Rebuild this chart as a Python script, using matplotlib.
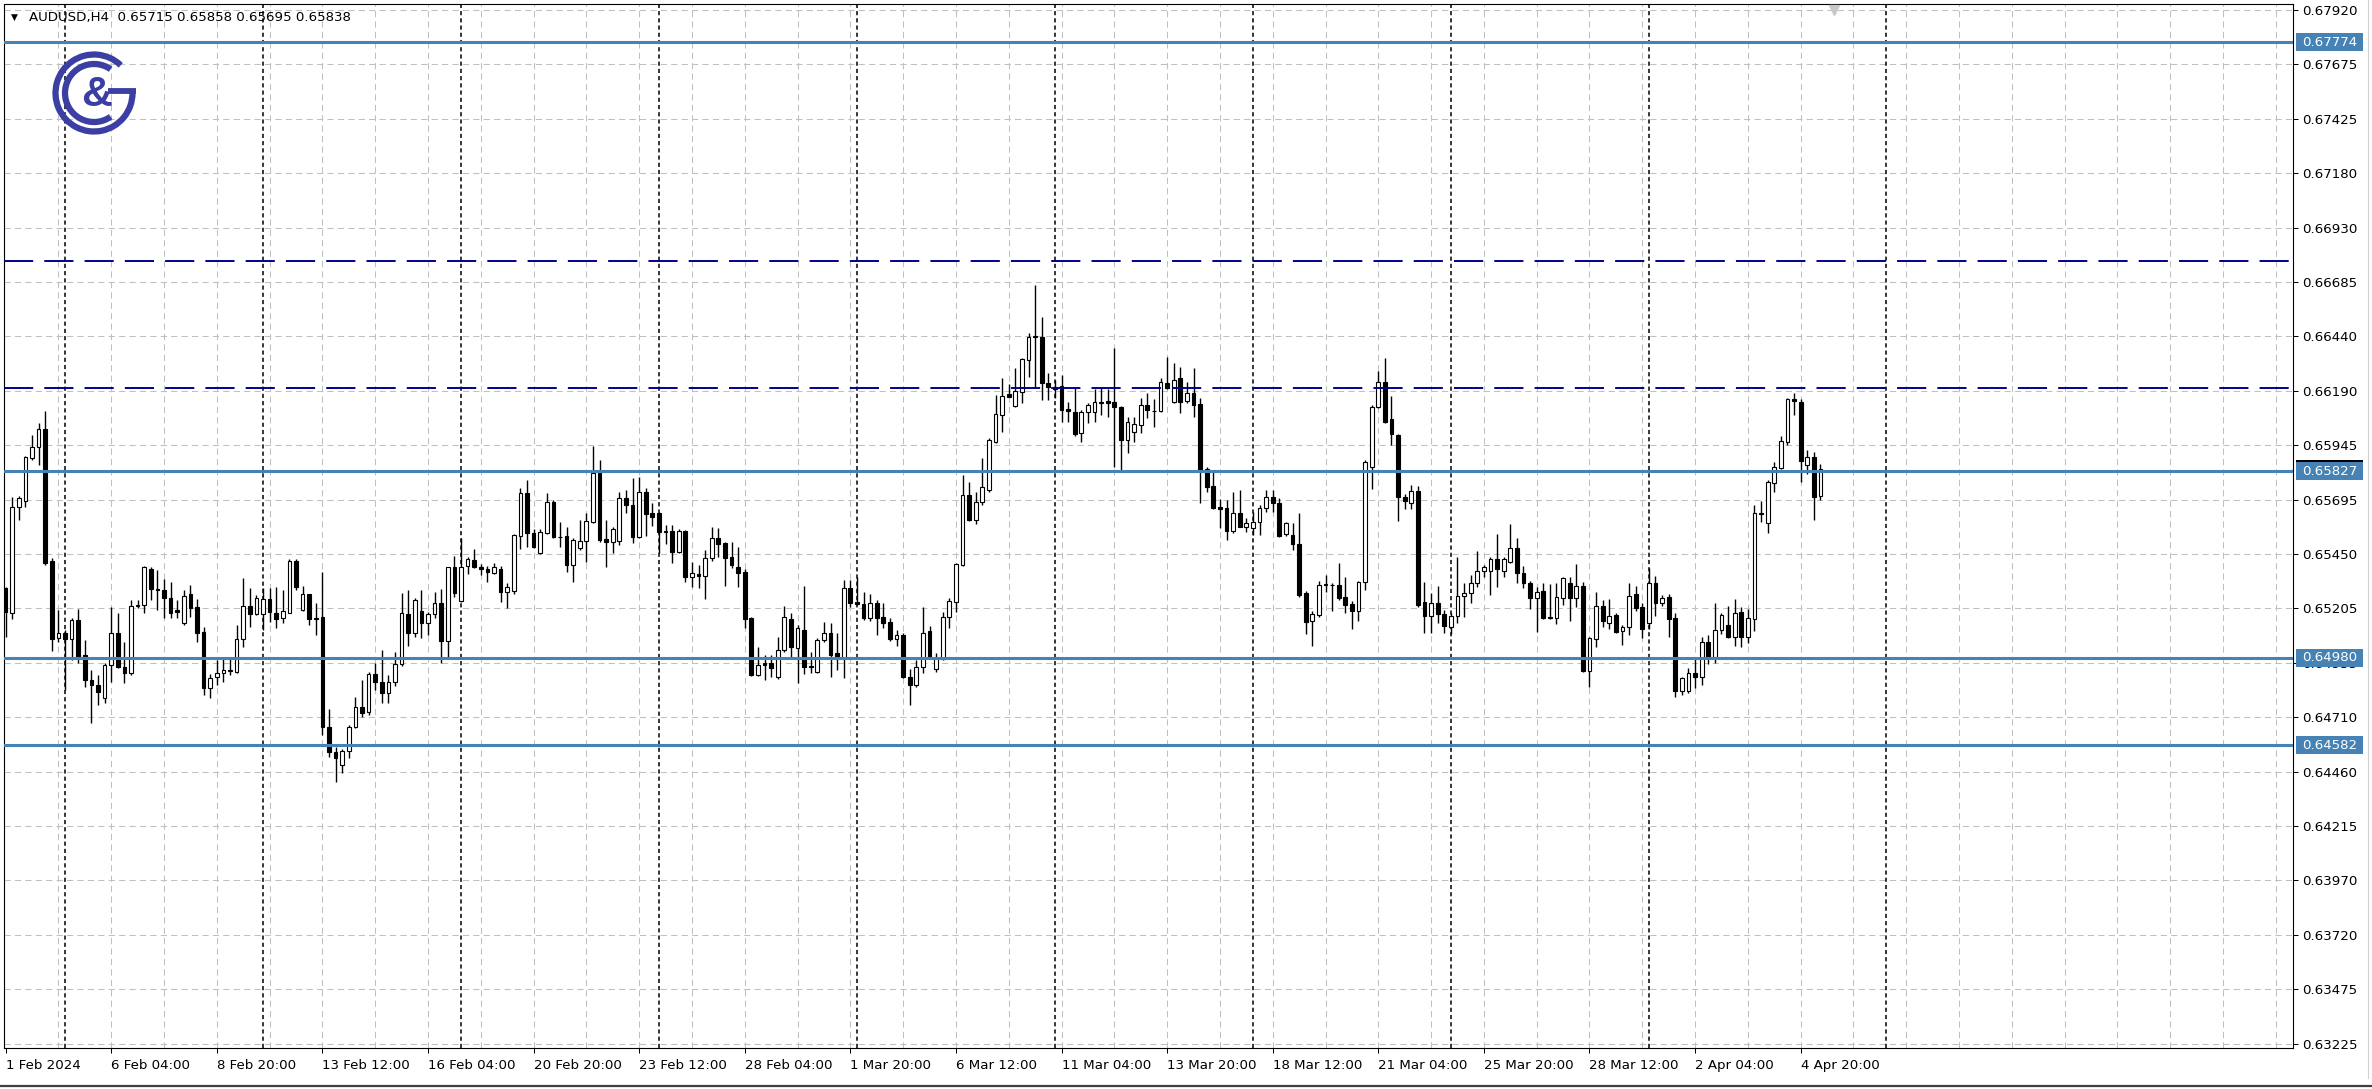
import matplotlib
matplotlib.use("Agg")
import matplotlib.pyplot as plt
import matplotlib.transforms as mtransforms
from matplotlib.patches import Arc, Rectangle
from matplotlib.lines import Line2D
import numpy as np

plt.rcParams['font.family'] = ['DejaVu Sans']
plt.rcParams['lines.scale_dashes'] = False

W, H = 2372, 1089

# AUDUSD H4 candles, bar 0 = 1 Feb 2024 12:00
SYMBOL = "AUDUSD,H4"

opens = [
    0.65294, 0.65184, 0.65665, 0.65691, 0.65884, 0.65934, 0.66016, 0.65419, 0.65067, 0.65090,
    0.65063, 0.65150, 0.64992, 0.64878, 0.64855, 0.64795, 0.64946, 0.65093, 0.64939, 0.64909,
    0.65214, 0.65219, 0.65382, 0.65290, 0.65287, 0.65252, 0.65196, 0.65135, 0.65267, 0.65208,
    0.65095, 0.64840, 0.64893, 0.64909, 0.64921, 0.64916, 0.65063, 0.65214, 0.65178, 0.65178,
    0.65244, 0.65184, 0.65158, 0.65184, 0.65420, 0.65196, 0.65267, 0.65161, 0.65164, 0.64666,
    0.64553, 0.64493, 0.64556, 0.64663, 0.64757, 0.64734, 0.64906, 0.64871, 0.64818, 0.64868,
    0.64951, 0.65178, 0.65093, 0.65192, 0.65138, 0.65178, 0.65229, 0.65057, 0.65390, 0.65238,
    0.65396, 0.65423, 0.65393, 0.65381, 0.65366, 0.65381, 0.65279, 0.65284, 0.65532, 0.65727,
    0.65547, 0.65456, 0.65547, 0.65688, 0.65529, 0.65532, 0.65400, 0.65476, 0.65511, 0.65597,
    0.65819, 0.65520, 0.65506, 0.65511, 0.65703, 0.65673, 0.65529, 0.65733, 0.65635, 0.65635,
    0.65555, 0.65555, 0.65460, 0.65555, 0.65347, 0.65360, 0.65350, 0.65431, 0.65521, 0.65502,
    0.65435, 0.65390, 0.65370, 0.65158, 0.64901, 0.64954, 0.64954, 0.64890, 0.65014, 0.65154,
    0.65022, 0.65105, 0.64942, 0.64916, 0.65060, 0.65090, 0.64999, 0.64977, 0.65294, 0.65231,
    0.65223, 0.65158, 0.65226, 0.65163, 0.65143, 0.65063, 0.65082, 0.64893, 0.64855, 0.64939,
    0.65102, 0.64927, 0.64972, 0.65163, 0.65234, 0.65400, 0.65718, 0.65607, 0.65688, 0.65741,
    0.65960, 0.66081, 0.66176, 0.66122, 0.66187, 0.66331, 0.66437, 0.66437, 0.66225, 0.66198,
    0.66213, 0.66107, 0.66096, 0.65998, 0.66096, 0.66096, 0.66138, 0.66146, 0.66142, 0.66116,
    0.65968, 0.66006, 0.66036, 0.66127, 0.66101, 0.66101, 0.66228, 0.66142, 0.66248, 0.66146,
    0.66179, 0.66131, 0.65834, 0.65759, 0.65665, 0.65658, 0.65556, 0.65635, 0.65574, 0.65567,
    0.65597, 0.65658, 0.65711, 0.65680, 0.65541, 0.65536, 0.65498, 0.65275, 0.65147, 0.65173,
    0.65310, 0.65311, 0.65310, 0.65253, 0.65223, 0.65193, 0.65325, 0.65844, 0.66116, 0.66232,
    0.66061, 0.65990, 0.65711, 0.65680, 0.65738, 0.65234, 0.65169, 0.65229, 0.65178, 0.65117,
    0.65169, 0.65259, 0.65272, 0.65320, 0.65375, 0.65375, 0.65426, 0.65375, 0.65415, 0.65476,
    0.65366, 0.65320, 0.65249, 0.65284, 0.65163, 0.65158, 0.65249, 0.65320, 0.65249, 0.65305,
    0.64921, 0.65063, 0.65214, 0.65138, 0.65173, 0.65102, 0.65117, 0.65269, 0.65211, 0.65138,
    0.65320, 0.65226, 0.65256, 0.65158, 0.64830, 0.64830, 0.64909, 0.64893, 0.65052, 0.64981,
    0.65105, 0.65128, 0.65072, 0.65189, 0.65072, 0.65154, 0.65632, 0.65592, 0.65774, 0.65839,
    0.65960, 0.66154, 0.66142, 0.65854, 0.65889, 0.65715,
]
highs = [
    0.65302, 0.65711, 0.65713, 0.65895, 0.65990, 0.66043, 0.66101, 0.65431, 0.65196, 0.65105,
    0.65158, 0.65199, 0.65060, 0.64924, 0.64901, 0.64954, 0.65208, 0.65181, 0.65052, 0.65241,
    0.65241, 0.65396, 0.65390, 0.65378, 0.65335, 0.65325, 0.65241, 0.65287, 0.65310, 0.65244,
    0.65117, 0.64906, 0.64969, 0.64984, 0.64984, 0.65128, 0.65340, 0.65294, 0.65264, 0.65294,
    0.65294, 0.65302, 0.65287, 0.65426, 0.65426, 0.65305, 0.65269, 0.65226, 0.65370, 0.64749,
    0.64576, 0.64564, 0.64674, 0.64803, 0.64878, 0.64916, 0.64954, 0.65014, 0.64901, 0.65007,
    0.65275, 0.65287, 0.65249, 0.65287, 0.65189, 0.65279, 0.65290, 0.65393, 0.65442, 0.65521,
    0.65438, 0.65471, 0.65405, 0.65396, 0.65408, 0.65396, 0.65320, 0.65541, 0.65748, 0.65786,
    0.65562, 0.65562, 0.65727, 0.65695, 0.65597, 0.65574, 0.65521, 0.65607, 0.65635, 0.65940,
    0.65877, 0.65607, 0.65574, 0.65730, 0.65741, 0.65794, 0.65801, 0.65748, 0.65680, 0.65640,
    0.65582, 0.65582, 0.65562, 0.65559, 0.65415, 0.65400, 0.65468, 0.65574, 0.65567, 0.65506,
    0.65506, 0.65483, 0.65381, 0.65166, 0.65030, 0.64992, 0.64992, 0.65075, 0.65214, 0.65184,
    0.65128, 0.65305, 0.65007, 0.65067, 0.65143, 0.65138, 0.65090, 0.65332, 0.65332, 0.65347,
    0.65279, 0.65269, 0.65241, 0.65226, 0.65158, 0.65105, 0.65090, 0.64927, 0.64969, 0.65208,
    0.65123, 0.64999, 0.65189, 0.65249, 0.65411, 0.65809, 0.65778, 0.65730, 0.65884, 0.65975,
    0.66172, 0.66248, 0.66222, 0.66293, 0.66340, 0.66452, 0.66671, 0.66528, 0.66270, 0.66240,
    0.66263, 0.66142, 0.66202, 0.66104, 0.66137, 0.66198, 0.66210, 0.66198, 0.66384, 0.66120,
    0.66074, 0.66074, 0.66157, 0.66182, 0.66152, 0.66248, 0.66343, 0.66319, 0.66301, 0.66232,
    0.66293, 0.66157, 0.65847, 0.65824, 0.65698, 0.65695, 0.65730, 0.65741, 0.65612, 0.65642,
    0.65673, 0.65741, 0.65741, 0.65703, 0.65597, 0.65592, 0.65638, 0.65284, 0.65193, 0.65329,
    0.65355, 0.65317, 0.65411, 0.65347, 0.65238, 0.65329, 0.65877, 0.66127, 0.66282, 0.66338,
    0.66167, 0.65995, 0.65723, 0.65763, 0.65759, 0.65325, 0.65272, 0.65305, 0.65196, 0.65181,
    0.65435, 0.65317, 0.65355, 0.65465, 0.65400, 0.65438, 0.65541, 0.65438, 0.65586, 0.65521,
    0.65396, 0.65329, 0.65302, 0.65320, 0.65314, 0.65320, 0.65347, 0.65347, 0.65405, 0.65325,
    0.65075, 0.65279, 0.65241, 0.65244, 0.65181, 0.65128, 0.65320, 0.65305, 0.65226, 0.65385,
    0.65350, 0.65264, 0.65269, 0.65184, 0.64893, 0.64931, 0.64984, 0.65075, 0.65082, 0.65229,
    0.65184, 0.65214, 0.65244, 0.65208, 0.65199, 0.65673, 0.65692, 0.65786, 0.65869, 0.65986,
    0.66157, 0.66182, 0.66154, 0.65922, 0.65915, 0.65858,
]
lows = [
    0.65075, 0.65154, 0.65605, 0.65665, 0.65877, 0.65854, 0.65400, 0.65010, 0.65052, 0.64833,
    0.64969, 0.64954, 0.64848, 0.64682, 0.64765, 0.64772, 0.64871, 0.64931, 0.64863, 0.64901,
    0.65204, 0.65181, 0.65241, 0.65196, 0.65158, 0.65158, 0.65158, 0.65128, 0.65166, 0.65052,
    0.64810, 0.64795, 0.64855, 0.64871, 0.64901, 0.64909, 0.65030, 0.65120, 0.65173, 0.65105,
    0.65143, 0.65113, 0.65135, 0.65181, 0.65287, 0.65193, 0.65128, 0.65082, 0.64629, 0.64530,
    0.64417, 0.64455, 0.64523, 0.64659, 0.64712, 0.64719, 0.64833, 0.64772, 0.64772, 0.64851,
    0.64942, 0.65033, 0.65075, 0.65067, 0.65082, 0.65158, 0.64957, 0.64972, 0.65256, 0.65234,
    0.65360, 0.65385, 0.65355, 0.65325, 0.65360, 0.65234, 0.65204, 0.65269, 0.65471, 0.65483,
    0.65476, 0.65450, 0.65541, 0.65521, 0.65483, 0.65370, 0.65325, 0.65468, 0.65415, 0.65589,
    0.65506, 0.65393, 0.65456, 0.65491, 0.65638, 0.65502, 0.65521, 0.65532, 0.65577, 0.65456,
    0.65498, 0.65408, 0.65453, 0.65325, 0.65302, 0.65294, 0.65244, 0.65420, 0.65438, 0.65305,
    0.65385, 0.65302, 0.65113, 0.64896, 0.64896, 0.64878, 0.64893, 0.64881, 0.65007, 0.64984,
    0.64863, 0.64906, 0.64912, 0.64912, 0.65052, 0.64893, 0.64924, 0.64886, 0.65208, 0.65219,
    0.65150, 0.65147, 0.65082, 0.65113, 0.65057, 0.65033, 0.64886, 0.64765, 0.64848, 0.64909,
    0.64977, 0.64916, 0.64969, 0.65113, 0.65189, 0.65396, 0.65601, 0.65586, 0.65673, 0.65730,
    0.65953, 0.66006, 0.66161, 0.66119, 0.66134, 0.66255, 0.66202, 0.66149, 0.66149, 0.66157,
    0.66051, 0.66051, 0.65986, 0.65960, 0.66043, 0.66051, 0.66081, 0.66074, 0.65847, 0.65832,
    0.65910, 0.65960, 0.65998, 0.66066, 0.66028, 0.66096, 0.66198, 0.66137, 0.66089, 0.66137,
    0.66074, 0.65683, 0.65730, 0.65653, 0.65567, 0.65514, 0.65547, 0.65571, 0.65552, 0.65536,
    0.65536, 0.65642, 0.65642, 0.65526, 0.65532, 0.65468, 0.65256, 0.65087, 0.65033, 0.65163,
    0.65279, 0.65193, 0.65241, 0.65184, 0.65108, 0.65147, 0.65287, 0.65744, 0.66111, 0.66043,
    0.65945, 0.65601, 0.65653, 0.65653, 0.65211, 0.65093, 0.65093, 0.65135, 0.65093, 0.65087,
    0.65138, 0.65163, 0.65229, 0.65302, 0.65347, 0.65264, 0.65302, 0.65347, 0.65408, 0.65317,
    0.65294, 0.65199, 0.65098, 0.65154, 0.65154, 0.65132, 0.65219, 0.65147, 0.65208, 0.64916,
    0.64845, 0.65027, 0.65120, 0.65108, 0.65090, 0.65037, 0.65082, 0.65193, 0.65067, 0.65108,
    0.65169, 0.65214, 0.65072, 0.64800, 0.64810, 0.64821, 0.64840, 0.64855, 0.64951, 0.64954,
    0.65087, 0.65067, 0.65033, 0.65027, 0.65048, 0.65102, 0.65597, 0.65547, 0.65730, 0.65836,
    0.65945, 0.66081, 0.65778, 0.65813, 0.65607, 0.65695,
]
closes = [
    0.65189, 0.65665, 0.65703, 0.65889, 0.65934, 0.66016, 0.65408, 0.65063, 0.65093, 0.65063,
    0.65150, 0.64984, 0.64878, 0.64855, 0.64825, 0.64946, 0.65093, 0.64939, 0.64912, 0.65214,
    0.65219, 0.65390, 0.65290, 0.65287, 0.65249, 0.65184, 0.65189, 0.65259, 0.65204, 0.65090,
    0.64840, 0.64886, 0.64909, 0.64924, 0.64924, 0.65063, 0.65214, 0.65178, 0.65249, 0.65244,
    0.65189, 0.65154, 0.65193, 0.65420, 0.65302, 0.65267, 0.65154, 0.65157, 0.64666, 0.64553,
    0.64526, 0.64556, 0.64663, 0.64757, 0.64730, 0.64906, 0.64871, 0.64818, 0.64871, 0.64951,
    0.65184, 0.65093, 0.65241, 0.65138, 0.65178, 0.65229, 0.65057, 0.65390, 0.65275, 0.65393,
    0.65426, 0.65393, 0.65381, 0.65370, 0.65393, 0.65279, 0.65299, 0.65536, 0.65727, 0.65544,
    0.65480, 0.65552, 0.65688, 0.65526, 0.65526, 0.65400, 0.65514, 0.65511, 0.65601, 0.65819,
    0.65514, 0.65506, 0.65562, 0.65703, 0.65673, 0.65529, 0.65733, 0.65632, 0.65620, 0.65552,
    0.65549, 0.65460, 0.65555, 0.65344, 0.65366, 0.65350, 0.65431, 0.65521, 0.65498, 0.65431,
    0.65400, 0.65363, 0.65154, 0.64901, 0.64946, 0.64946, 0.64931, 0.65014, 0.65163, 0.65027,
    0.65113, 0.64939, 0.64936, 0.65060, 0.65090, 0.64992, 0.64977, 0.65294, 0.65226, 0.65223,
    0.65158, 0.65229, 0.65158, 0.65138, 0.65063, 0.65081, 0.64893, 0.64855, 0.64939, 0.65093,
    0.64981, 0.64977, 0.65166, 0.65238, 0.65405, 0.65718, 0.65607, 0.65688, 0.65756, 0.65968,
    0.66086, 0.66167, 0.66164, 0.66191, 0.66334, 0.66437, 0.66440, 0.66225, 0.66210, 0.66210,
    0.66104, 0.66101, 0.65995, 0.66096, 0.66127, 0.66142, 0.66142, 0.66138, 0.66116, 0.65968,
    0.66051, 0.66040, 0.66127, 0.66104, 0.66098, 0.66232, 0.66202, 0.66240, 0.66142, 0.66179,
    0.66127, 0.65832, 0.65753, 0.65658, 0.65653, 0.65556, 0.65635, 0.65574, 0.65592, 0.65597,
    0.65658, 0.65711, 0.65680, 0.65532, 0.65589, 0.65498, 0.65264, 0.65143, 0.65178, 0.65310,
    0.65314, 0.65308, 0.65249, 0.65219, 0.65193, 0.65325, 0.65869, 0.66119, 0.66232, 0.66051,
    0.65995, 0.65711, 0.65692, 0.65738, 0.65219, 0.65169, 0.65229, 0.65178, 0.65123, 0.65169,
    0.65259, 0.65275, 0.65320, 0.65375, 0.65390, 0.65426, 0.65381, 0.65426, 0.65476, 0.65363,
    0.65317, 0.65249, 0.65279, 0.65158, 0.65158, 0.65256, 0.65340, 0.65249, 0.65305, 0.64921,
    0.65067, 0.65214, 0.65147, 0.65169, 0.65098, 0.65117, 0.65259, 0.65204, 0.65108, 0.65320,
    0.65229, 0.65249, 0.65154, 0.64830, 0.64886, 0.64912, 0.64893, 0.65052, 0.64977, 0.65105,
    0.65173, 0.65072, 0.65184, 0.65072, 0.65158, 0.65635, 0.65638, 0.65778, 0.65844, 0.65965,
    0.66154, 0.66146, 0.65874, 0.65889, 0.65707, 0.65838,
]

x_labels = ["1 Feb 2024", "6 Feb 04:00", "8 Feb 20:00", "13 Feb 12:00", "16 Feb 04:00",
            "20 Feb 20:00", "23 Feb 12:00", "28 Feb 04:00", "1 Mar 20:00", "6 Mar 12:00",
            "11 Mar 04:00", "13 Mar 20:00", "18 Mar 12:00", "21 Mar 04:00", "25 Mar 20:00",
            "28 Mar 12:00", "2 Apr 04:00", "4 Apr 20:00"]
bars_per_label = 16

price_ticks = [0.67920, 0.67675, 0.67425, 0.67180, 0.66930, 0.66685, 0.66440, 0.66190,
               0.65945, 0.65695, 0.65450, 0.65205, 0.64955, 0.64710, 0.64460, 0.64215,
               0.63970, 0.63720, 0.63475, 0.63225]

week_starts = [9, 39, 69, 99, 129, 159, 189, 219, 249, 285]   # period separators (bar index)
solid_levels = [0.67774, 0.65827, 0.64980, 0.64582]
dashed_levels = [0.66780, 0.66205]

LEVEL_BLUE = '#4682B4'
NAVY = '#00008B'
GRID = '#c0c0c0'
LOGO = '#3b3fa3'


def fig_box(x0, y0, x1, y1):
    """pixel box (top-left origin) -> figure fraction rect"""
    return [x0 / W, 1 - y1 / H, (x1 - x0) / W, (y1 - y0) / H]


fig = plt.figure(figsize=(W / 100, H / 100), dpi=100)
fig.patch.set_facecolor('white')

ax = fig.add_axes(fig_box(4, 4, 2293, 1048))
ax.set_facecolor('white')

y_lo, y_hi = 0.63208, 0.67947
ax.set_ylim(y_lo, y_hi)
ax.set_xlim(-0.24, 346.6)

# grid
for p in price_ticks:
    ax.axhline(p, color=GRID, lw=0.75, ls=(0, (4.5, 3.0)), zorder=1)
for b in range(8, 347, 8):
    ax.axvline(b, color=GRID, lw=0.75, ls=(0, (4.5, 3.0)), zorder=1)
for b in week_starts:
    ax.axvline(b, color='black', lw=1.1, ls=(0, (3.0, 2.2)), zorder=2)

# candles
o = np.array(opens)
h = np.array(highs)
l = np.array(lows)
c = np.array(closes)
idx = np.arange(len(o))
up = c >= o
ax.vlines(idx, l, h, color='black', lw=1.0, zorder=3)
ax.bar(idx[up], (c - o)[up], bottom=o[up], width=0.56, color='white',
       edgecolor='black', linewidth=0.8, zorder=4)
ax.bar(idx[~up], (o - c)[~up], bottom=c[~up], width=0.56, color='black',
       edgecolor='black', linewidth=0.8, zorder=4)

# horizontal levels
for p in solid_levels:
    ax.axhline(p, color=LEVEL_BLUE, lw=2.2, zorder=5)
for p in dashed_levels:
    ax.axhline(p, color=NAVY, lw=1.4, ls=(0, (21, 8)), zorder=5)

# axes / ticks
for s in ax.spines.values():
    s.set_color('black')
    s.set_linewidth(0.8)
ax.yaxis.tick_right()
ax.set_yticks(price_ticks)
ax.set_yticklabels([f"{p:.5f}" for p in price_ticks])
ax.tick_params(axis='y', length=3.6, width=0.72, pad=3, labelsize=9.6, colors='black')
ax.set_xticks(np.arange(len(x_labels)) * bars_per_label)
ax.set_xticklabels(x_labels, ha='left')
ax.tick_params(axis='x', length=3.6, width=0.72, pad=4, labelsize=9.6, colors='black')

# price labels on the right scale
ax_w_px = 2293 - 4
dpp = (y_hi - y_lo) / (1048 - 4)
trans = mtransforms.blended_transform_factory(ax.transAxes, ax.transData)
bx0 = 1.0 + 3 / ax_w_px
bw = 67 / ax_w_px
# bid marker, mostly hidden behind the 0.65827 label
ax.add_patch(Rectangle((bx0, closes[-1] - 9 * dpp), bw, 18 * dpp, transform=trans,
                       facecolor='black', edgecolor='none', clip_on=False, zorder=9))
for p in solid_levels:
    ax.add_patch(Rectangle((bx0, p - 9 * dpp), bw, 18 * dpp, transform=trans,
                           facecolor=LEVEL_BLUE, edgecolor='none', clip_on=False, zorder=10))
    ax.text(bx0 + bw / 2, p, f"{p:.5f}", transform=trans, color='white', fontsize=9.6,
            ha='center', va='center', zorder=11, clip_on=False)

# chart-shift marker at the top
tmark = mtransforms.blended_transform_factory(ax.transData, ax.transAxes)
ax.plot([277], [0.994], marker='v', ms=7, color='#c8c8c8', transform=tmark,
        clip_on=False, zorder=6)

# header
fig.text(11 / W, 1 - 17 / H, '\u25bc', fontsize=6.5, va='center', ha='left')
header = f"{SYMBOL}  {opens[-1]:.5f} {highs[-1]:.5f} {lows[-1]:.5f} {closes[-1]:.5f}"
fig.text(29 / W, 1 - 17 / H, header, fontsize=9.6, va='center', ha='left')

# logo
lg = fig.add_axes(fig_box(44, 43, 144, 143))
lg.set_xlim(-50, 50)
lg.set_ylim(-50, 50)
lg.axis('off')
lg.add_patch(Arc((0, 0), 77, 77, theta1=46, theta2=360, lw=4.5, color=LOGO))
lg.add_patch(Arc((0, 0), 58, 58, theta1=55, theta2=305, lw=4.5, color=LOGO))
lg.plot([14, 42], [2.5, 2.5], lw=4.2, color=LOGO, solid_capstyle='butt')
lg.text(3, -2, '&', fontsize=31, fontweight='bold', color=LOGO, ha='center',
        va='center', family='Liberation Sans')

# window frame bits
fig.add_artist(Line2D([2368 / W, 2368 / W], [1 - 1078 / H, 1], color='#d0d0d0', lw=0.8,
                      transform=fig.transFigure))
fig.add_artist(Line2D([0, 1], [1 - 1086 / H, 1 - 1086 / H], color='#404040', lw=1.6,
                      transform=fig.transFigure))

fig.savefig('out.png', dpi=100, facecolor='white')
